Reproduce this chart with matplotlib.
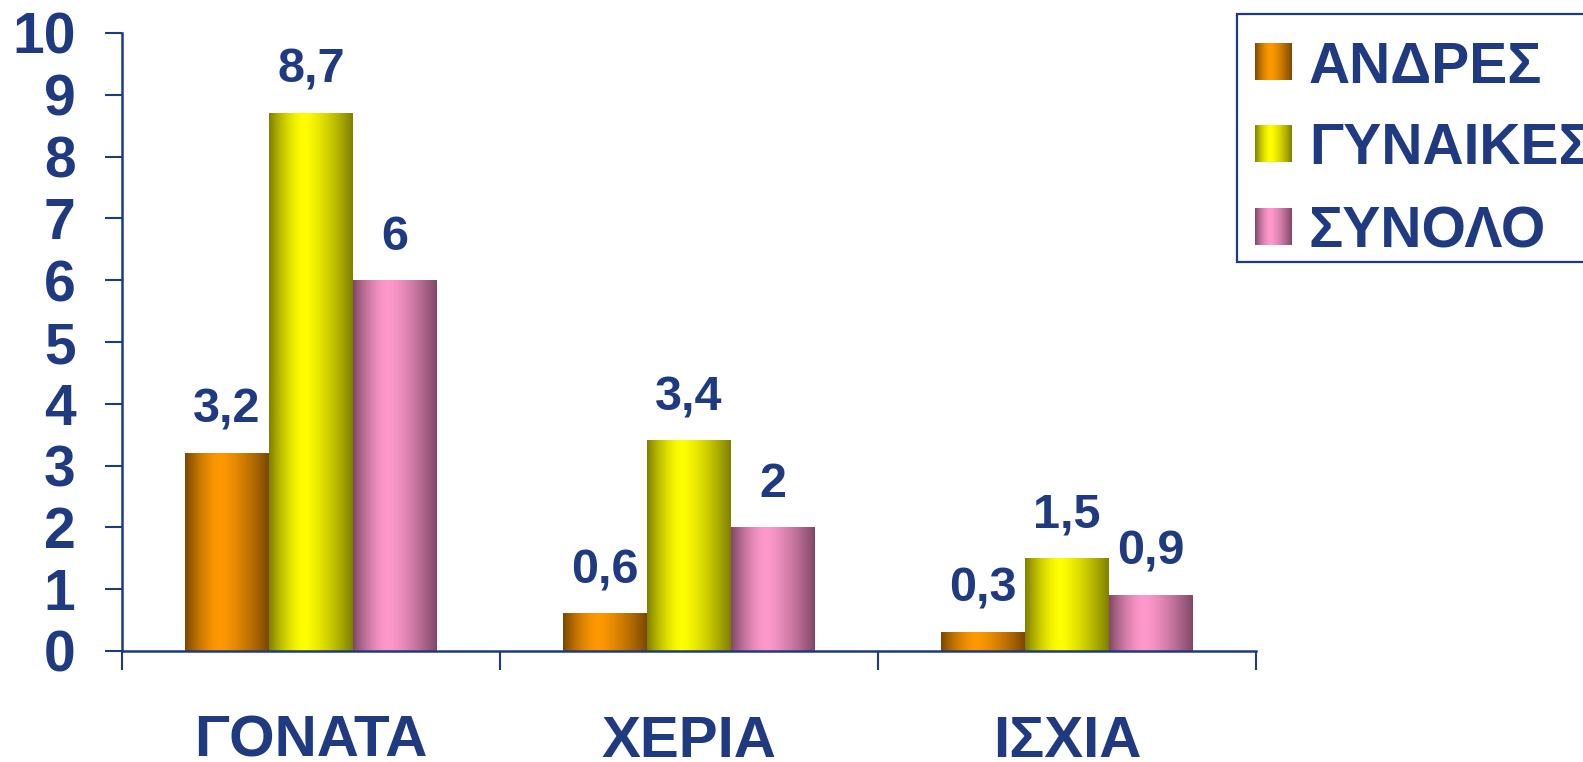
import numpy as np
import matplotlib
matplotlib.use("Agg")
import matplotlib.pyplot as plt
from matplotlib.patches import Rectangle
from matplotlib.colors import to_rgb

plt.rcParams['font.family'] = ['Liberation Sans', 'DejaVu Sans']
plt.rcParams['font.weight'] = 'bold'

# ---- data ----
categories = ['ΓΟΝΑΤΑ', 'ΧΕΡΙΑ', 'ΙΣΧΙΑ']
series_names = ['ΑΝΔΡΕΣ', 'ΓΥΝΑΙΚΕΣ', 'ΣΥΝΟΛΟ']
andres = [3.2, 0.6, 0.3]
gynaikes = [8.7, 3.4, 1.5]
synolo = [6.0, 2.0, 0.9]
series_values = [andres, gynaikes, synolo]
value_labels = [['3,2', '0,6', '0,3'], ['8,7', '3,4', '1,5'], ['6', '2', '0,9']]
yticks = list(range(0, 11))

# ---- style ----
TXT = '#1F3A80'
dark_cols = ['#7A4800', '#7F7F00', '#7F4866']
bright_cols = ['#FF9900', '#FFFF00', '#FF99CC']

W, H, DPI = 1583, 762, 100
fig = plt.figure(figsize=(W / DPI, H / DPI), dpi=DPI)
ax = fig.add_axes([122 / W, 1 - 651 / H, (1256 - 122) / W, (651 - 33) / H])


def gradient(dark, bright, n=256, c=0.42):
    t = np.linspace(0, 1, n)
    d = np.where(t < c, (c - t) / c, (t - c) / (1 - c))
    i = np.clip(1 - d ** 1.6, 0, 1)
    i = np.where(t < c, i, np.clip(1 - d ** 1.4, 0, 1))
    d0 = np.array(to_rgb(dark))
    b0 = np.array(to_rgb(bright))
    rgb = d0[None, :] + (b0 - d0)[None, :] * i[:, None]
    return rgb[None, :, :]


x = np.arange(len(categories))
bw = 2 / 9
for k, vals in enumerate(series_values):
    offs = (k - 1) * bw
    bars = ax.bar(x + offs, vals, width=bw, facecolor='none', edgecolor='none', zorder=3)
    img = gradient(dark_cols[k], bright_cols[k])
    for b, lab in zip(bars, value_labels[k]):
        x0, y0 = b.get_x(), b.get_y()
        ax.imshow(img, extent=(x0, x0 + b.get_width(), y0, y0 + b.get_height()),
                  aspect='auto', zorder=2, interpolation='bilinear')
        ax.annotate(lab, (x0 + b.get_width() / 2, b.get_height()), xytext=(0, 22),
                    textcoords='offset points', ha='center', va='baseline',
                    fontsize=35, color=TXT, fontweight='bold')

ax.set_xlim(-0.5, len(categories) - 0.5)
ax.set_ylim(0, 10)
ax.set_yticks(yticks)
ax.set_yticklabels([str(v) for v in yticks])
ax.tick_params(axis='y', direction='out', length=12.5, width=1.5, colors=TXT,
               labelsize=41, pad=21)
ax.set_xticks(np.arange(len(categories) + 1) - 0.5)
ax.set_xticklabels([])
ax.tick_params(axis='x', which='major', direction='out', length=14, width=1.5, colors=TXT)
ax.set_xticks(x, minor=True)
ax.set_xticklabels(categories, minor=True)
ax.tick_params(axis='x', which='minor', length=0, labelsize=42, pad=46, colors=TXT)
for lbl in ax.get_xticklabels(minor=True) + ax.get_yticklabels():
    lbl.set_fontweight('bold')
for s in ['top', 'right']:
    ax.spines[s].set_visible(False)
for s in ['left', 'bottom']:
    ax.spines[s].set_color(TXT)
    ax.spines[s].set_linewidth(1.8)

# ---- legend (drawn in pixel coordinates on an overlay) ----
lax = fig.add_axes([0, 0, 1, 1], zorder=5)
lax.set_xlim(0, W)
lax.set_ylim(H, 0)
lax.axis('off')
lax.patch.set_alpha(0)
lax.add_patch(Rectangle((1237, 14), 400, 248, facecolor='white', edgecolor=TXT,
                        linewidth=1.6, clip_on=True))
row_y = [62, 143.5, 226.5]
for k, name in enumerate(series_names):
    cy = row_y[k]
    lax.imshow(gradient(dark_cols[k], bright_cols[k]), extent=(1255, 1292, cy + 18.5, cy - 18.5),
               aspect='auto', interpolation='bilinear', zorder=6)
    lax.text(1309, cy, name, fontsize=41, color=TXT, fontweight='bold',
             va='center_baseline', ha='left', zorder=6)
lax.set_xlim(0, W)
lax.set_ylim(H, 0)

fig.savefig('out.png', dpi=DPI)
